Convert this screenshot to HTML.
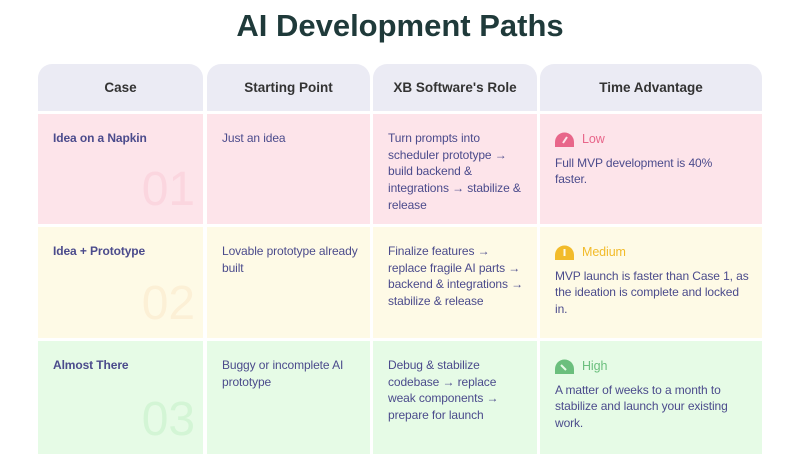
<!DOCTYPE html>
<html><head><meta charset="utf-8"><style>
body{margin:0;width:800px;height:471px;background:#fff;font-family:"Liberation Sans",sans-serif;position:relative;overflow:hidden}
h1{position:absolute;left:0;top:8px;width:800px;text-align:center;margin:0;font-size:31px;font-weight:bold;color:#1f3a3a}
.c{position:absolute;box-sizing:border-box;color:#4b4b8c;font-size:12px;line-height:16.7px;padding:16px 2px 0 15px;letter-spacing:-0.1px;white-space:nowrap}
.h{background:#ebebf4;border-radius:14px 14px 0 0;text-align:center;font-weight:bold;color:#333;font-size:13.5px;padding:16px 0 0 0;letter-spacing:0}
.p{background:#fde4ea}.y{background:#fefae6}.g{background:#e6fbe6}
.b{font-weight:bold}
.n{position:absolute;right:8px;bottom:10px;font-size:48px;line-height:48px;font-weight:normal}
.lv{display:flex;align-items:center;font-size:12.5px;margin-bottom:7px;margin-top:1px}
.lv svg{margin-right:8px}
</style></head><body>
<h1>AI Development Paths</h1>
<div class="c h" style="left:38px;top:64px;width:165px;height:47px">Case</div>
<div class="c h" style="left:207px;top:64px;width:163px;height:47px">Starting Point</div>
<div class="c h" style="left:373px;top:64px;width:164px;height:47px">XB Software's Role</div>
<div class="c h" style="left:540px;top:64px;width:222px;height:47px">Time Advantage</div>

<div class="c p b" style="left:38px;top:114px;width:165px;height:110px">Idea on a Napkin<span class="n" style="color:#fbd6df">01</span></div>
<div class="c p" style="left:207px;top:114px;width:163px;height:110px">Just an idea</div>
<div class="c p" style="left:373px;top:114px;width:164px;height:110px">Turn prompts into<br>scheduler prototype →<br>build backend &amp;<br>integrations → stabilize &amp;<br>release</div>
<div class="c p" style="left:540px;top:114px;width:222px;height:110px"><div class="lv" style="color:#e8668a"><svg width="19" height="15" viewBox="0 0 19 15"><path d="M0 15V10A9.5 9.5 0 0 1 19 10V15Z" fill="#e8668a"/><path d="M8 11L12 5" stroke="#fde4ea" stroke-width="2"/></svg>Low</div>Full MVP development is 40%<br>faster.</div>

<div class="c y b" style="left:38px;top:227px;width:165px;height:111px">Idea + Prototype<span class="n" style="color:#fcf0d6">02</span></div>
<div class="c y" style="left:207px;top:227px;width:163px;height:111px">Lovable prototype already<br>built</div>
<div class="c y" style="left:373px;top:227px;width:164px;height:111px">Finalize features →<br>replace fragile AI parts →<br>backend &amp; integrations →<br>stabilize &amp; release</div>
<div class="c y" style="left:540px;top:227px;width:222px;height:111px"><div class="lv" style="color:#f2bb2a"><svg width="19" height="15" viewBox="0 0 19 15"><path d="M0 15V10A9.5 9.5 0 0 1 19 10V15Z" fill="#f2bb2a"/><path d="M9.5 11L9.5 4" stroke="#fefae6" stroke-width="2"/></svg>Medium</div>MVP launch is faster than Case 1, as<br>the ideation is complete and locked<br>in.</div>

<div class="c g b" style="left:38px;top:341px;width:165px;height:113px">Almost There<span class="n" style="color:#d3f5d5">03</span></div>
<div class="c g" style="left:207px;top:341px;width:163px;height:113px">Buggy or incomplete AI<br>prototype</div>
<div class="c g" style="left:373px;top:341px;width:164px;height:113px">Debug &amp; stabilize<br>codebase → replace<br>weak components →<br>prepare for launch</div>
<div class="c g" style="left:540px;top:341px;width:222px;height:113px"><div class="lv" style="color:#6bbf7d"><svg width="19" height="15" viewBox="0 0 19 15"><path d="M0 15V10A9.5 9.5 0 0 1 19 10V15Z" fill="#6bbf7d"/><path d="M11 11L6 6" stroke="#e6fbe6" stroke-width="2"/></svg>High</div>A matter of weeks to a month to<br>stabilize and launch your existing<br>work.</div>
</body></html>
